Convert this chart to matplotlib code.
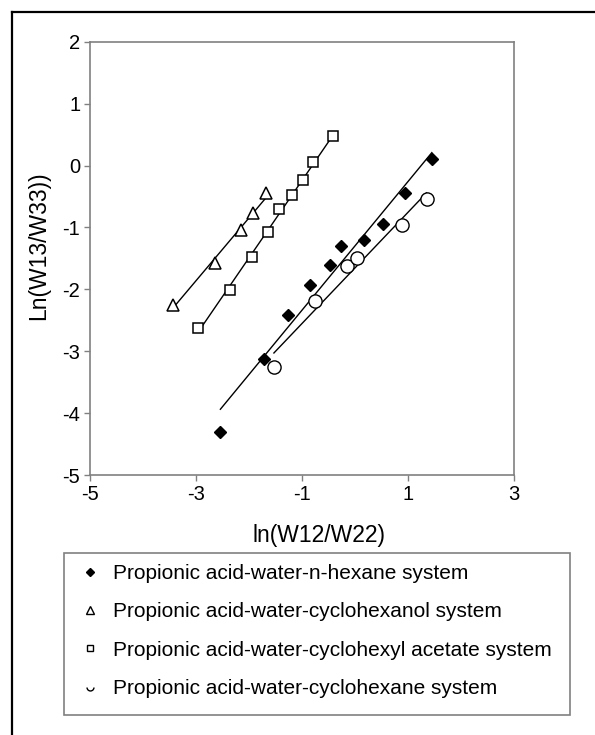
import matplotlib
matplotlib.use("Agg")
import matplotlib.pyplot as plt
import numpy as np
from matplotlib.lines import Line2D
from matplotlib.patches import Rectangle
from matplotlib.path import Path

plt.rcParams['font.family'] = ['Liberation Sans', 'DejaVu Sans']
plt.rcParams['axes.unicode_minus'] = False

# data
hexane_x = [-2.54, -1.71, -1.27, -0.85, -0.47, -0.27, 0.17, 0.53, 0.94, 1.45]
hexane_y = [-4.31, -3.12, -2.41, -1.93, -1.60, -1.30, -1.21, -0.94, -0.45, 0.11]

cyclohexanol_x = [-3.44, -2.65, -2.15, -1.92, -1.67]
cyclohexanol_y = [-2.26, -1.57, -1.05, -0.76, -0.45]

acetate_x = [-2.96, -2.36, -1.95, -1.65, -1.43, -1.19, -0.98, -0.79, -0.42]
acetate_y = [-2.63, -2.01, -1.48, -1.07, -0.71, -0.48, -0.23, 0.05, 0.47]

cyclohexane_x = [-1.53, -0.75, -0.16, 0.04, 0.89, 1.35]
cyclohexane_y = [-3.26, -2.19, -1.62, -1.50, -0.96, -0.54]

labels = ['Propionic acid-water-n-hexane system',
          'Propionic acid-water-cyclohexanol system',
          'Propionic acid-water-cyclohexyl acetate system',
          'Propionic acid-water-cyclohexane system']

x_ticks = [-5, -3, -1, 1, 3]
y_ticks = [-5, -4, -3, -2, -1, 0, 1, 2]

W, H = 595, 735
fig = plt.figure(figsize=(W / 100, H / 100), dpi=100)
ax = fig.add_axes([90 / W, 1 - 475 / H, 424 / W, 433.3 / H])

grey = '#808080'

def fit_line(xs, ys):
    k, b = np.polyfit(xs, ys, 1)
    xx = np.array([min(xs), max(xs)])
    ax.plot(xx, k * xx + b, color='black', lw=1.0, zorder=2)

fit_line(hexane_x, hexane_y)
fit_line(cyclohexanol_x, cyclohexanol_y)
fit_line(acetate_x, acetate_y)
fit_line(cyclohexane_x, cyclohexane_y)

ax.plot(hexane_x, hexane_y, 'D', ms=6.5, color='black', zorder=3)
ax.plot(cyclohexanol_x, cyclohexanol_y, '^', ms=8.5, mfc='white', mec='black', mew=1.1, zorder=3)
ax.plot(acetate_x, acetate_y, 's', ms=7, mfc='white', mec='black', mew=1.1, zorder=3)
ax.plot(cyclohexane_x, cyclohexane_y, 'o', ms=9.5, mfc='white', mec='black', mew=1.0, zorder=3)

ax.set_xlim(-5, 3)
ax.set_ylim(-5, 2)
ax.set_xticks(x_ticks)
ax.set_yticks(y_ticks)
ax.tick_params(direction='out', length=4, width=1, color=grey, labelsize=14.5, pad=3)
for s in ax.spines.values():
    s.set_color(grey)
    s.set_linewidth(1.2)

ax.set_xlabel('ln(W12/W22)', fontsize=16.5)
ax.xaxis.set_label_coords(0.54, -0.112)
ax.set_ylabel('Ln(W13/W33))', fontsize=16.5)
ax.yaxis.set_label_coords(-0.095, 0.53)

# legend handles (the circle shows as a lower arc in the original)
arc = Path.arc(180, 360)
handles = [
    Line2D([], [], ls='none', marker='D', ms=4.5, color='black'),
    Line2D([], [], ls='none', marker='^', ms=6, mfc='white', mec='black', mew=1),
    Line2D([], [], ls='none', marker='s', ms=5, mfc='white', mec='black', mew=1),
    Line2D([], [], ls='none', marker=arc, ms=5, mfc='none', mec='black', mew=1),
]
fig.legend(handles, labels, loc='upper left', bbox_to_anchor=(80 / W, 1 - 564 / H),
           frameon=False, fontsize=15, labelspacing=0.93, handlelength=1.0,
           handletextpad=0.6, borderpad=0, borderaxespad=0)

fig.add_artist(Rectangle((64 / W, 1 - 715 / H), (570 - 64) / W, (715 - 553) / H,
                         transform=fig.transFigure, fill=False, edgecolor=grey, lw=1.2))

# outer frame: only top and left edges are visible in the original crop
fig.add_artist(Line2D([11.5 / W, 11.5 / W], [0, 1 - 12 / H], transform=fig.transFigure,
                      color='black', lw=1.6))
fig.add_artist(Line2D([11.5 / W, 1], [1 - 12 / H, 1 - 12 / H], transform=fig.transFigure,
                      color='black', lw=1.6))

fig.savefig('out.png', dpi=100)
